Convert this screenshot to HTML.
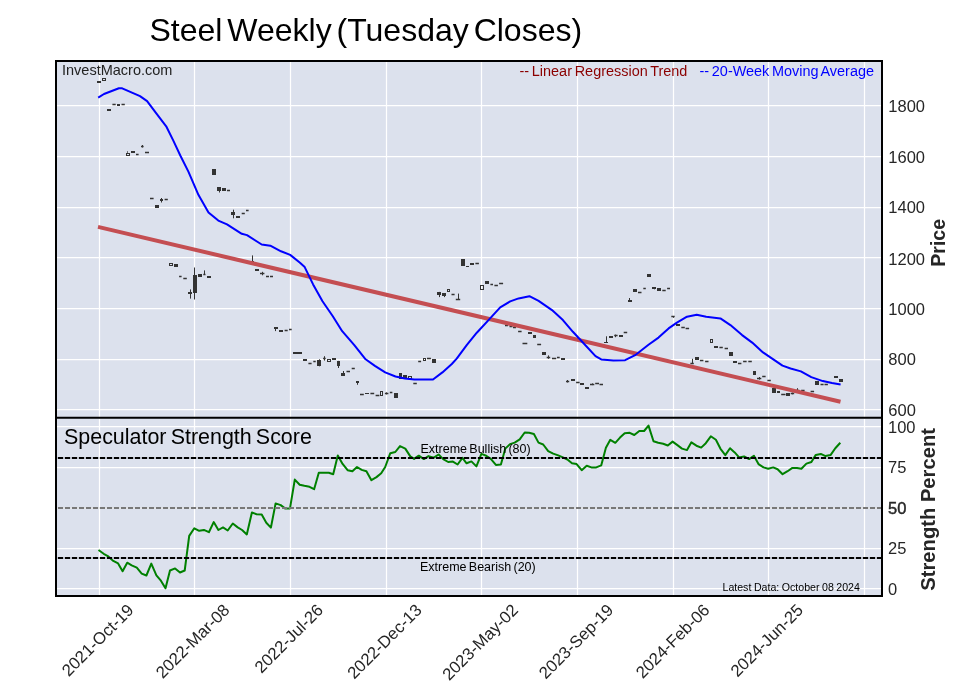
<!DOCTYPE html><html><head><meta charset="utf-8"><style>
html,body{margin:0;padding:0;background:#fff;width:957px;height:694px;overflow:hidden}
svg{display:block;will-change:transform}
text{font-family:"Liberation Sans",sans-serif}
</style></head><body>
<svg width="957" height="694" viewBox="0 0 957 694">
<rect x="56" y="61" width="826" height="535" fill="#dce1ed"/>
<path d="M99.5 62V417M99.5 419V595M194.5 62V417M194.5 419V595M290.5 62V417M290.5 419V595M386.5 62V417M386.5 419V595M481.5 62V417M481.5 419V595M577.5 62V417M577.5 419V595M673.5 62V417M673.5 419V595M768.5 62V417M768.5 419V595M864.5 62V417M864.5 419V595M57 105.5H881M57 156.5H881M57 207.5H881M57 257.5H881M57 308.5H881M57 359.5H881M57 409.5H881M57 426.5H881M57 467.5H881M57 508H881M57 548.5H881M57 588.5H881" stroke="#ffffff" stroke-width="1.25" fill="none"/>
<g fill="#333"><rect x="97" y="81" width="4" height="2"/><rect x="107" y="109" width="4" height="2"/><rect x="117" y="104" width="3" height="2"/><rect x="131" y="151" width="4" height="2"/><rect x="160" y="199" width="3" height="2"/><rect x="155" y="205" width="4" height="3"/><rect x="212" y="169" width="4" height="6"/><rect x="217" y="187" width="4" height="4"/><rect x="222" y="188" width="4" height="3"/><rect x="231" y="212" width="4" height="3"/><rect x="236" y="216" width="4" height="2"/><rect x="174" y="264" width="4" height="3"/><rect x="188" y="292" width="4" height="2"/><rect x="193" y="275" width="4" height="18"/><rect x="198" y="274" width="4" height="3"/><rect x="207" y="276" width="4" height="2"/><rect x="251" y="261" width="3" height="1"/><rect x="255" y="269" width="4" height="2"/><rect x="274" y="327" width="4" height="2"/><rect x="279" y="330" width="4" height="2"/><rect x="293" y="352" width="4" height="2"/><rect x="297" y="352" width="5" height="2"/><rect x="303" y="359" width="4" height="2"/><rect x="317" y="360" width="4" height="6"/><rect x="332" y="358" width="4" height="2"/><rect x="337" y="361" width="3" height="5"/><rect x="341" y="373" width="4" height="3"/><rect x="356" y="381" width="3" height="2"/><rect x="365" y="393" width="4" height="1"/><rect x="394" y="393" width="4" height="5"/><rect x="399" y="373" width="3" height="6"/><rect x="403" y="375" width="4" height="3"/><rect x="432" y="359" width="4" height="4"/><rect x="437" y="292" width="4" height="3"/><rect x="442" y="293" width="4" height="3"/><rect x="461" y="259" width="4" height="7"/><rect x="466" y="266" width="3" height="1"/><rect x="470" y="263" width="4" height="2"/><rect x="485" y="281" width="4" height="3"/><rect x="528" y="332" width="4" height="2"/><rect x="533" y="335" width="3" height="3"/><rect x="542" y="352" width="4" height="3"/><rect x="561" y="358" width="4" height="2"/><rect x="571" y="379" width="4" height="2"/><rect x="580" y="383" width="4" height="2"/><rect x="585" y="387" width="4" height="2"/><rect x="604" y="342" width="4" height="1"/><rect x="609" y="336" width="4" height="2"/><rect x="619" y="335" width="4" height="2"/><rect x="628" y="300" width="4" height="2"/><rect x="633" y="289" width="4" height="3"/><rect x="647" y="274" width="4" height="3"/><rect x="652" y="287" width="4" height="2"/><rect x="657" y="288" width="4" height="3"/><rect x="676" y="324" width="4" height="2"/><rect x="695" y="357" width="4" height="3"/><rect x="714" y="346" width="4" height="2"/><rect x="729" y="352" width="4" height="4"/><rect x="733" y="361" width="4" height="2"/><rect x="753" y="371" width="3" height="4"/><rect x="772" y="388" width="4" height="5"/><rect x="777" y="391" width="3" height="2"/><rect x="786" y="393" width="4" height="3"/><rect x="815" y="381" width="4" height="4"/><rect x="834" y="376" width="4" height="2"/><rect x="839" y="379" width="4" height="3"/></g>
<g fill="none" stroke="#333" stroke-width="1"><rect x="102.5" y="78.5" width="3" height="2"/><rect x="126.5" y="153.5" width="3" height="2"/><rect x="169.5" y="263.5" width="3" height="2"/><rect x="327.5" y="359.5" width="3" height="2"/><rect x="380.5" y="391.5" width="2" height="4"/><rect x="408.5" y="376.5" width="3" height="2"/><rect x="423.5" y="358.5" width="2" height="2"/><rect x="447.5" y="289.5" width="2" height="2"/><rect x="480.5" y="285.5" width="3" height="4"/><rect x="710.5" y="339.5" width="2" height="3"/></g>
<path d="M112.4 104.5H115.7M121.5 104.5H124.8M141 146.5H143.6M136 154.5H138.6M145 152.5H149M150 198.5H153.6M164.6 199.5H167.8M227 190.5H230M241.7 213.5H244.8M246 210.5H248.6M179.1 276.5H181.6M183.3 278.5H186.8M203.3 274.5H205.5M260 273.5H264.4M266 276.5H269M270 276.5H273M284.6 330.5H287.7M289 329.5H291.7M308.4 363.5H311.6M313.3 361.5H315.7M323.1 358.5H325.7M346.5 371.5H350M351.7 368.5H354.8M360 394.5H363.8M370.4 393.5H374.2M375.6 395.5H379.4M384.9 393.5H388.4M389.8 392.5H392.4M413.3 383.5H416.8M418.2 361.5H421.1M427 358.5H430.9M451.5 294.5H454.6M455.8 299.5H460.2M475.4 263.5H478.9M490.4 284.5H493M494.4 285.5H497.9M499.1 283.5H503.1M505 325.5H508M509.5 326.5H512.5M513 327.5H516M518.1 331.5H521.6M522.5 343.5H527.3M537.2 344.5H541.1M546.7 357.5H550.2M552 358.5H556.2M557 357.5H559.7M566 381.5H569.2M576.1 382.5H579.6M590 384.5H594.3M595.2 383.5H599M599.5 384.5H603M614.2 335.5H617.6M623.7 332.5H627.2M638 292.5H641.5M643.3 288.5H645.8M662.3 290.5H665.7M667.1 288.5H670M671.3 316.5H674.7M681.3 327.5H684.8M685.6 328.5H689.1M690.4 363.5H693.8M699.9 360.5H703.4M705.1 361.5H708.5M719.4 347.5H722.8M724.6 348.5H728M738 363.5H741.4M743.1 361.5H746.6M748.3 361.5H751.8M757 378.5H761.3M762.2 376.5H765.6M767.4 380.5H770.8M781.2 394.5H785.5M790.7 393.5H794.2M795.9 390.5H799.4M801.1 390.5H804.6M810.6 391.5H814.1M820.5 384.5H823.6M824.5 384.5H827.9" stroke="#333" stroke-width="1.3" fill="none"/>
<path d="M142.5 145V147.5M127.5 151.4V152.7M161.5 198V202.5M219.5 190V192.5M233.5 209.7V218.3M190.5 289.4V298.6M194.5 267.5V299.5M204.5 270.4V274.4M252.5 255.4V262.3M262.5 271.8V275.3M275.5 327.3V331.1M319.5 359.3V366.3M324.5 356.2V360.6M338.5 360.9V368M343.5 371V373M357.5 381.3V384.8M386.5 392.4V394.4M439.5 291.9V297.1M444.5 293.3V297.1M458.5 293.6V299.7M548.5 355.4V358.8M567.5 380V382.5M592.5 383.4V385.1M606.5 336.3V342.9M615.5 334.6V337.2M629.5 298V301.9M654.5 287V289.3M673.5 316.5V317.8M692.5 358.8V363.1M759.5 377V379.6M792.5 392.6V394.3M797.5 388.2V390.8" stroke="#333" stroke-width="1" fill="none"/>
<line x1="98" y1="226.9" x2="840.5" y2="401.7" stroke="#c44e52" stroke-width="4"/>
<polyline points="98.2,97.6 104,94 118.9,88.3 122.2,88.3 140,96.1 147.1,101.1 156.1,113.2 166.2,126.3 173.2,140.4 180.3,155.5 188.4,171.6 198.4,194.8 208.5,212.4 218.3,220.6 227,224.4 241.8,233.8 247,235.1 261.7,244.5 270.3,245.7 281,251.3 290.2,254.9 300,262.8 304.7,267.1 313.1,284.4 322.5,301.2 332.8,316.2 342.2,331.2 354.3,345.2 365.6,359.3 374.9,365.9 385.2,372.4 395.5,376.5 404.9,378.4 414.3,379.5 433,379.5 442.4,372.4 451.8,364 456.7,358.6 466.7,345.2 476.8,332.7 488.5,320.1 500.2,307.3 510.2,301.4 518.6,298.4 529.4,296.2 538.6,300.9 552,310.1 562.9,320.1 572.9,331.8 583.8,343.5 595.5,356.1 601.3,359.4 613.4,360.5 625.1,360.2 635.1,355.2 648.5,344.8 658.5,337.6 668.6,328.4 676.9,322.6 687,316.7 696.7,314.7 706.2,316.7 720.4,318.4 730.4,325.1 742.1,335.1 752.2,342.6 763,352.4 772.2,358.7 782.5,365.6 790.6,368.5 800.9,371.4 811.3,377.1 822.8,381.1 832,383.1 840.6,384.6" fill="none" stroke="#0000ff" stroke-width="2" stroke-linejoin="round"/>
<polyline points="98.5,550 103.7,553.8 107.8,556.1 113.3,560.9 118.1,563.4 122.6,571.2 127.2,562.7 131.7,565.4 136.8,567.7 141.7,573.6 146.4,575.5 151.3,563.6 156.4,575.3 160.9,580.7 165.5,588.3 170,570.5 175.1,568.4 180,572.5 184.7,570.5 189.2,535.9 194.3,528.3 199.2,530.8 203.9,529.9 208.9,532.2 213.7,522.1 218.4,530 223,527.4 227.7,530.5 232.8,523.5 237.7,527.4 242.1,530 246.8,534.4 251.9,512.5 256.5,514.2 261.7,514.6 266.3,522.8 270.9,527.6 275.6,503.4 280.7,505.1 285,508.4 290,508.4 294.8,479.6 299.7,484.7 304.4,485.8 309.5,486.8 314.1,489.2 318.8,472.7 323.8,472.7 328.8,472.7 333.2,474.2 337.8,455.4 342.6,463.9 347.6,470.2 352.4,471.2 357,467 361.7,469.9 366.4,471.2 371.4,480.2 376.5,477.1 381.2,473.3 385.2,467 390.3,453.2 395.3,452 400,446.1 405.3,448.6 410.3,456.4 414.1,458.9 418.8,455.7 423.9,459.1 428.5,456.1 433.8,457.6 438.6,454.5 443.2,459.1 448.2,462 452.9,461.6 457.6,464.5 462.4,457.9 466.6,463.3 471.4,461.4 476.4,466.4 481.4,453.9 486.2,455.7 490.8,458.9 495.9,464.9 500.9,464.5 505.3,448.6 510,444.1 514.7,442.6 519.7,439.4 524.7,432.5 529.1,432.8 533.9,434 538.5,442.6 543.2,444.5 548.2,451.1 553.2,453.6 558.2,455.4 562.9,457.4 567.4,459.5 572,463.3 576.6,464.1 581.7,470.2 586.7,465.8 591.4,467.4 596.2,467.4 601.2,465.4 605.9,447.8 610.3,439.8 615.3,442.8 620,437.6 624.7,433.2 629.7,432.8 634.3,435 639.3,431 644.1,431 648.5,425.6 653.5,441.3 658.2,442.8 663.2,443.8 667.8,445.5 672.6,441.6 677.4,445.1 682,448.6 687,450.1 691.4,442.3 696.4,445.7 701.2,447.6 705.8,443.2 710.8,436.3 715.9,439.8 720.5,448.8 725.3,455.1 730,448.2 734.7,452.4 739.1,457.4 744.1,456.4 749.1,459.1 753.9,455.7 758.5,464.1 763.5,467.4 768.2,468.7 773.2,467.4 777.6,469.2 782.6,474.2 787.6,471.2 792.4,467.9 797,467.9 801.4,468.7 806.4,463.6 811.4,462 815.8,454.9 820.8,453.9 825.5,456.1 830.5,455.1 835.3,448.2 840.3,442.8" fill="none" stroke="#008000" stroke-width="2" stroke-linejoin="round"/>
<path d="M57.86 457.9H881M57.86 557.9H881" stroke="#000" stroke-width="2" stroke-dasharray="5.3 1.7" fill="none"/>
<path d="M57.86 507.9H881" stroke="#787878" stroke-width="2" stroke-dasharray="5.3 1.7" fill="none"/>
<rect x="56" y="61" width="826" height="535" fill="none" stroke="#000" stroke-width="2"/>
<line x1="55" y1="417.7" x2="883" y2="417.7" stroke="#000" stroke-width="2"/>
<text x="149.5" y="41.2" font-size="32" word-spacing="-4" fill="#000">Steel Weekly (Tuesday Closes)</text>
<text x="62" y="75" font-size="14.5" fill="#222">InvestMacro.com</text>
<text x="519.5" y="75.5" font-size="14.45" word-spacing="-1.3" fill="#8b0000">-- Linear Regression Trend</text>
<text x="699.5" y="75.5" font-size="14.45" word-spacing="-1.3" fill="#0000ff">-- 20-Week Moving Average</text>
<text x="888.3" y="112.3" font-size="16.5" fill="#262626">1800</text>
<text x="888.3" y="163.4" font-size="16.5" fill="#262626">1600</text>
<text x="888.3" y="213.3" font-size="16.5" fill="#262626">1400</text>
<text x="888.3" y="264.5" font-size="16.5" fill="#262626">1200</text>
<text x="888.3" y="315.4" font-size="16.5" fill="#262626">1000</text>
<text x="888.3" y="365.1" font-size="16.5" fill="#262626">800</text>
<text x="888.3" y="416.3" font-size="16.5" fill="#262626">600</text>
<text transform="translate(945,266.8) rotate(-90)" font-size="19.6" font-weight="bold" fill="#262626">Price</text>
<text x="888" y="433.4" font-size="16.5" fill="#262626">100</text>
<text x="888" y="473.2" font-size="16.5" fill="#262626">75</text>
<text x="888" y="514.3" font-size="16.5" fill="#262626" stroke="#262626" stroke-width="0.45">50</text>
<text x="888" y="554" font-size="16.5" fill="#262626">25</text>
<text x="888" y="595.2" font-size="16.5" fill="#262626">0</text>
<text transform="translate(935,590.7) rotate(-90)" font-size="20.2" font-weight="bold" fill="#262626">Strength Percent</text>
<text x="64" y="443.8" font-size="21.45" word-spacing="-1.8" fill="#000">Speculator Strength Score</text>
<text x="420.5" y="452.9" font-size="12.5" word-spacing="-1.2" fill="#000">Extreme Bullish (80)</text>
<text x="420" y="570.9" font-size="12.5" word-spacing="-1.2" fill="#000">Extreme Bearish (20)</text>
<text x="722.5" y="591" font-size="10.6" word-spacing="-0.4" fill="#000">Latest Data: October 08 2024</text>
<text transform="translate(134.6,611.2) rotate(-45)" text-anchor="end" font-size="16.8" fill="#262626">2021-Oct-19</text>
<text transform="translate(230.6,611.2) rotate(-45)" text-anchor="end" font-size="16.8" fill="#262626">2022-Mar-08</text>
<text transform="translate(324.1,611.2) rotate(-45)" text-anchor="end" font-size="16.8" fill="#262626">2022-Jul-26</text>
<text transform="translate(422.8,611.2) rotate(-45)" text-anchor="end" font-size="16.8" fill="#262626">2022-Dec-13</text>
<text transform="translate(519.1,611.2) rotate(-45)" text-anchor="end" font-size="16.8" fill="#262626">2023-May-02</text>
<text transform="translate(614.4,611.2) rotate(-45)" text-anchor="end" font-size="16.8" fill="#262626">2023-Sep-19</text>
<text transform="translate(710.6,611.2) rotate(-45)" text-anchor="end" font-size="16.8" fill="#262626">2024-Feb-06</text>
<text transform="translate(804.1,611.2) rotate(-45)" text-anchor="end" font-size="16.8" fill="#262626">2024-Jun-25</text>
</svg></body></html>
